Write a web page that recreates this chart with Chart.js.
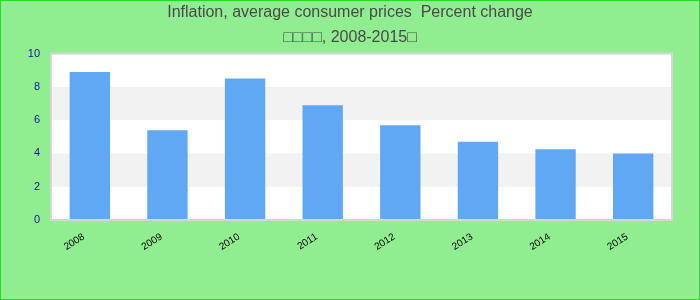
<!DOCTYPE html>
<html>
<head>
<meta charset="utf-8">
<script src="https://cdn.jsdelivr.net/npm/chart.js@4/dist/chart.umd.min.js"></script>
<style>
html,body{margin:0;padding:0;background:#90ee90;}
#wrap{width:700px;height:300px;position:relative;}
</style>
</head>
<body>
<div id="wrap"><canvas id="c" width="700" height="300"></canvas></div>
<script>
const categories = ['2008','2009','2010','2011','2012','2013','2014','2015'];
const inflation = [8.9, 5.4, 8.5, 6.9, 5.7, 4.7, 4.25, 4.0];
const yTicks = [0, 2, 4, 6, 8, 10];
const titleLines = ['Inflation, average consumer prices  Percent change', '\u25A1\u25A1\u25A1\u25A1, 2008-2015\u25A1'];

const bgPlugin = {
  id: 'bg',
  beforeDraw(chart) {
    const {ctx, chartArea: a, scales: {y}} = chart;
    ctx.save();
    ctx.fillStyle = '#90ee90';
    ctx.fillRect(0, 0, chart.width, chart.height);
    ctx.fillStyle = '#ffffff';
    ctx.fillRect(a.left, a.top, a.right - a.left, a.bottom - a.top);
    ctx.fillStyle = '#f2f2f2';
    for (let i = 1; i < yTicks.length - 1; i += 2) {
      const y1 = y.getPixelForValue(yTicks[i]);
      const y2 = y.getPixelForValue(yTicks[i + 1]);
      ctx.fillRect(a.left, y2, a.right - a.left, y1 - y2);
    }
    ctx.restore();
  },
  afterDatasetsDraw(chart) {
    const {ctx, chartArea: a} = chart;
    ctx.save();
    ctx.strokeStyle = '#d6d6d6';
    ctx.lineWidth = 2;
    ctx.strokeRect(a.left, a.top, a.right - a.left, a.bottom - a.top);
    ctx.restore();
  },
  afterDraw(chart) {
    const ctx = chart.ctx;
    ctx.save();
    ctx.strokeStyle = '#22dd22';
    ctx.lineWidth = 1;
    ctx.strokeRect(0.5, 0.5, chart.width - 1, chart.height - 1);
    ctx.restore();
  }
};

new Chart(document.getElementById('c'), {
  type: 'bar',
  data: {
    labels: categories,
    datasets: [{
      data: inflation,
      backgroundColor: '#60a8f4',
      borderWidth: 0,
      barPercentage: 0.52,
      categoryPercentage: 1.0
    }]
  },
  options: {
    responsive: false,
    animation: false,
    devicePixelRatio: 1,
    layout: {padding: {left: 0, right: 0, top: 0, bottom: 0}},
    plugins: {
      legend: {display: false},
      tooltip: {enabled: false},
      title: {
        display: true,
        text: titleLines,
        color: '#4a4a4a',
        font: {family: '"Liberation Sans", Arial, sans-serif', size: 16, weight: 'normal', lineHeight: 1.55},
        padding: {top: 0, bottom: 4}
      }
    },
    scales: {
      x: {
        grid: {display: false, drawTicks: false},
        border: {display: false},
        ticks: {
          color: '#000000',
          font: {family: '"Liberation Sans", Arial, sans-serif', size: 10},
          minRotation: 32,
          maxRotation: 32,
          padding: 11,
          labelOffset: -6,
          autoSkip: false
        },
        afterFit(s) { s.height = 80; }
      },
      y: {
        min: 0,
        max: 10,
        grid: {display: false, drawTicks: false},
        border: {display: false},
        ticks: {
          stepSize: 2,
          color: '#15159a',
          font: {family: '"Liberation Sans", Arial, sans-serif', size: 11},
          padding: 11
        },
        afterFit(s) { s.width = 51; }
      },
      yRight: {
        position: 'right',
        min: 0,
        max: 10,
        grid: {display: false, drawTicks: false},
        border: {display: false},
        ticks: {display: false},
        afterFit(s) { s.width = 28; }
      }
    }
  },
  plugins: [bgPlugin]
});
</script>
</body>
</html>
